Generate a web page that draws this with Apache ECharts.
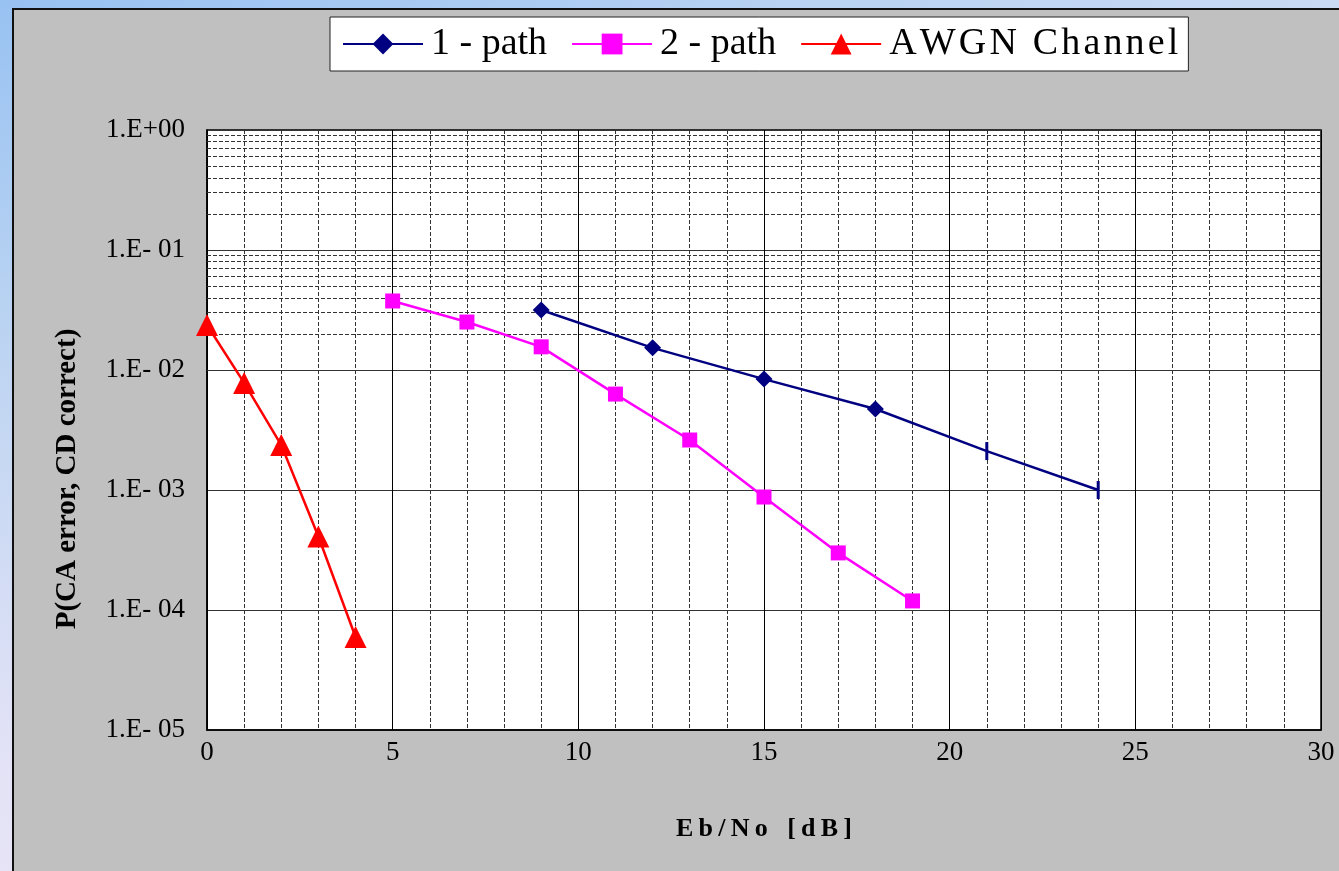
<!DOCTYPE html>
<html lang="en">

<head>
	<meta charset="UTF-8" />
	<script src="https://cdn.jsdelivr.net/npm/echarts@6/dist/echarts.min.js"></script>
	<title>CA error</title>
	<style>
		html, body { margin: 0; padding: 0; width: 1339px; height: 871px; overflow: hidden; }
		body { background: linear-gradient(160deg, #98c2f2 0%, #bcd4f2 25%, #e2e2f6 55%, #f8e8f6 100%); }
		#panel { position: absolute; left: 12px; top: 8px; right: -4px; bottom: -4px; background: #c0c0c0; border-left: 2px solid #111; border-top: 2px solid #111; }
		#main { position: absolute; left: 0; top: 0; width: 1339px; height: 871px; }
	</style>
</head>

<body>
	<div id="panel"></div>
	<div id="main"></div>

	<script type="text/javascript">
		// Eb/No [dB] and probability values
		const onePathX = [9, 12, 15, 18, 21, 24];
		const onePathY = [0.0316, 0.0153, 0.0084, 0.00473, 0.00211, 0.00100];
		const twoPathX = [5, 7, 9, 11, 13, 15, 17, 19];
		const twoPathY = [0.0376, 0.0251, 0.0156, 0.0063, 0.00261, 0.000874, 0.000299, 0.000119];
		const awgnX = [0, 1, 2, 3, 4];
		const awgnY = [0.0237, 0.0078, 0.00237, 0.00041, 0.0000596];
		// points of 1-path that are drawn as a short bar instead of a diamond
		const barPoints = [21, 24];

		const decades = [-5, -4, -3, -2, -1];
		const minorSteps = [2, 3, 4, 5, 6, 7, 8, 9];

		const spaced = s => s.split('').join('\u2009');
		const serif = '"Liberation Serif", "Times New Roman", serif';

		const minorLines = [];
		decades.forEach(e => minorSteps.forEach(k => minorLines.push({ yAxis: k * Math.pow(10, e) })));

		const chart = echarts.init(document.getElementById('main'));

		const option = {
			backgroundColor: 'transparent',
			animation: false,
			legend: {
				left: 330,
				top: 17,
				data: ['1 - path', '2 - path', 'AWGN Channel'],
				backgroundColor: '#fff',
				borderColor: '#222',
				borderWidth: 1,
				borderRadius: 0,
				padding: [8, 10, 8, 12],
				itemGap: 24,
				itemWidth: 80,
				itemHeight: 26,
				formatter: name => (name === 'AWGN Channel' ? name.split('').join('\u200A') : name),
				textStyle: { fontFamily: serif, fontSize: 38, color: '#000', padding: [0, 0, 0, 3] },
			},
			grid: {
				left: 207,
				top: 130,
				width: 1114,
				height: 600,
				show: true,
				backgroundColor: '#fff',
				borderColor: '#000',
				borderWidth: 1.5,
			},
			graphic: [
				{
					type: 'text',
					x: 68,
					y: 479,
					rotation: Math.PI / 2,
					style: {
						text: 'P(CA error, CD correct)',
						font: 'bold 29px ' + serif,
						fill: '#000',
						align: 'center',
						verticalAlign: 'middle',
					},
				},
			],
			xAxis: {
				type: 'value',
				min: 0,
				max: 30,
				interval: 5,
				name: spaced('Eb/No') + '   ' + spaced('[dB]'),
				nameLocation: 'middle',
				nameGap: 86,
				nameTextStyle: { fontFamily: serif, fontSize: 26, fontWeight: 'bold', color: '#000' },
				axisLine: { lineStyle: { color: '#000', width: 1.5 } },
				axisTick: { show: false },
				axisLabel: { fontFamily: serif, fontSize: 27, color: '#000', margin: 9 },
				splitLine: { show: true, lineStyle: { color: '#000', width: 1 } },
				minorTick: { show: false, splitNumber: 5 },
				minorSplitLine: { show: true, lineStyle: { color: '#333', width: 1, type: [4, 2] } },
			},
			yAxis: {
				type: 'log',
				logBase: 10,
				min: 1e-5,
				max: 1,
				interval: 1,
				axisLine: { lineStyle: { color: '#000', width: 1.5 } },
				axisTick: { show: false },
				axisLabel: {
					fontFamily: serif,
					fontSize: 27,
					color: '#000',
					margin: 22,
					padding: [9, 0, 0, 0],
					formatter: v => {
						const e = Math.round(Math.log10(v));
						return e === 0 ? '1.E+00' : '1.E- 0' + (-e);
					},
				},
				splitLine: { show: true, lineStyle: { color: '#333', width: 1.2 } },
			},
			series: [
				{
					name: 'minor grid',
					type: 'line',
					data: [],
					z: 1,
					silent: true,
					markLine: {
						silent: true,
						symbol: 'none',
						label: { show: false },
						lineStyle: { color: '#333', width: 1, type: [4, 2] },
						data: minorLines,
					},
				},
				{
					name: '1 - path',
					type: 'line',
					z: 5,
					symbol: 'diamond',
					symbolSize: 17,
					color: '#000080',
					lineStyle: { width: 2.5, color: '#000080' },
					itemStyle: { color: '#000080' },
					data: onePathX.map((x, i) =>
						barPoints.includes(x)
							? { value: [x, onePathY[i]], symbol: 'rect', symbolSize: [3, 18] }
							: [x, onePathY[i]]
					),
				},
				{
					name: '2 - path',
					type: 'line',
					z: 5,
					symbol: 'rect',
					symbolSize: 15,
					color: '#ff00ff',
					lineStyle: { width: 2.5, color: '#ff00ff' },
					itemStyle: { color: '#ff00ff' },
					data: twoPathX.map((x, i) => [x, twoPathY[i]]),
				},
				{
					name: 'AWGN Channel',
					type: 'line',
					z: 5,
					symbol: 'triangle',
					symbolSize: 22,
					color: '#ff0000',
					lineStyle: { width: 2.5, color: '#ff0000' },
					itemStyle: { color: '#ff0000' },
					data: awgnX.map((x, i) => [x, awgnY[i]]),
				},
			],
		};
		chart.setOption(option);
	</script>
</body>

</html>
